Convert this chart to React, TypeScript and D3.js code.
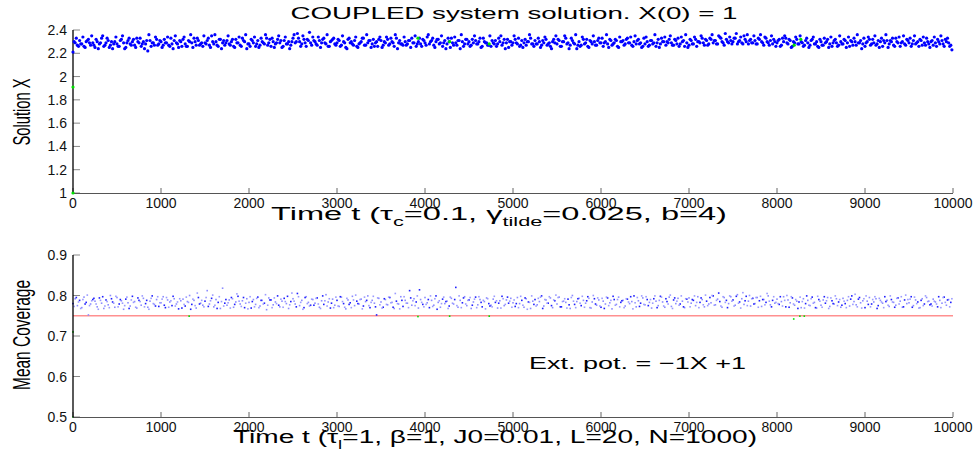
import React from 'react';
import * as d3 from 'd3';

const TIME_TICKS = [0, 1000, 2000, 3000, 4000, 5000, 6000, 7000, 8000, 9000, 10000];
const TOP_Y_TICKS = [1, 1.2, 1.4, 1.6, 1.8, 2, 2.2, 2.4];
const BOT_Y_TICKS = [0.5, 0.6, 0.7, 0.8, 0.9];
const T_STEP = 25;
const T_OFFSET_B = 12.5;

// Solution X (hundredths), t = i * 25
const solutionX = [
  221,229,227,231,228,226,230,232,227,229,
  225,230,228,233,226,229,231,227,224,230,
  228,226,232,229,225,231,228,230,227,233,
  229,226,230,228,222,231,229,227,232,228,
  230,227,229,234,226,228,231,229,225,230,
  232,228,226,230,229,233,227,231,228,226,
  229,231,227,235,228,230,226,232,229,227,
  231,228,230,226,232,229,227,233,230,224,
  228,232,229,226,231,227,230,228,233,229,
  226,230,228,232,229,225,231,228,230,227,
  233,229,237,230,228,232,226,231,229,234,
  230,227,231,229,233,228,226,230,232,228,
  229,231,227,230,225,232,229,228,231,226,
  228,230,233,227,229,231,228,226,230,232,
  231,227,229,232,228,230,226,233,229,228,
  227,230,228,231,233,229,226,230,228,232,
  229,234,228,231,227,230,232,229,226,231,
  228,230,233,227,229,231,224,230,228,232,
  230,227,229,231,228,233,226,230,229,227,
  226,229,231,228,230,227,232,229,225,230,
  229,232,228,226,231,229,227,230,233,228,
  231,228,230,227,229,232,228,226,230,229,
  228,231,226,230,233,229,227,231,228,224,
  230,227,232,229,226,231,228,230,227,233,
  229,226,230,228,232,227,229,231,225,230,
  231,228,233,229,227,230,228,232,229,226,
  228,230,227,231,229,226,232,228,230,234,
  230,232,229,227,231,233,228,230,226,229,
  227,231,228,232,230,229,233,227,231,228,
  232,229,231,228,234,230,227,232,229,231,
  230,233,228,231,229,235,230,228,232,229,
  231,228,232,230,227,233,229,231,228,230,
  229,232,227,230,233,228,231,226,229,232,
  228,230,226,231,229,227,232,228,230,225,
  230,227,229,232,228,226,231,229,227,230,
  228,231,229,226,230,233,227,229,231,228,
  226,230,232,228,229,227,231,230,226,229,
  231,228,230,227,233,229,226,230,228,232,
  229,226,231,228,230,232,227,229,233,228,
  230,227,229,232,228,231,226,230,229,227,
];

// Solution X (hundredths), t = i * 25 + 12.5
const solutionX2 = [
  230,233,226,228,234,225,231,229,235,227,
  232,224,229,235,227,233,225,230,228,234,
  226,231,235,224,229,233,227,232,225,230,
  233,228,224,231,236,226,229,234,227,231,
  225,232,229,227,233,224,235,228,231,226,
  234,226,231,236,225,230,233,227,229,235,
  228,233,225,230,236,227,232,224,231,229,
  235,227,232,225,229,234,226,231,236,228,
  226,231,234,228,225,233,229,236,227,232,
  233,225,229,235,231,226,234,228,224,230,
  236,230,233,226,235,229,232,238,227,231,
  228,234,225,232,229,236,226,231,233,227,
  232,226,235,229,224,233,230,227,234,225,
  229,233,227,236,231,225,232,229,226,234,
  225,230,234,227,233,229,236,224,231,228,
  234,227,231,225,229,235,228,233,226,231,
  227,236,230,233,225,232,228,235,229,224,
  233,225,229,234,227,231,236,226,232,228,
  226,232,235,228,230,225,233,229,227,235,
  231,228,226,233,235,229,224,232,230,227,
  235,229,233,227,225,232,230,236,228,226,
  228,233,225,231,234,227,229,224,232,235,
  232,226,230,235,228,224,233,229,236,227,
  226,234,228,232,225,230,235,227,231,229,
  233,229,236,225,231,228,232,226,234,230,
  227,232,229,234,226,235,231,228,225,233,
  234,226,231,228,236,229,225,233,230,227,
  229,235,227,232,228,226,234,231,236,225,
  232,228,234,226,230,235,229,232,227,233,
  236,231,228,235,233,229,237,230,234,228,
  233,237,230,234,228,232,236,231,229,235,
  228,233,236,229,234,230,227,235,232,226,
  231,226,233,235,229,232,225,230,234,228,
  235,229,227,233,225,231,234,228,226,232,
  227,233,230,225,234,229,232,226,235,228,
  232,225,234,231,227,230,236,229,224,233,
  229,234,227,232,235,228,225,233,231,236,
  225,231,233,226,230,234,229,235,227,231,
  233,228,235,229,226,231,234,227,230,225,
  231,234,226,230,235,228,232,233,226,223,
];

// Mean coverage (thousandths), t = i * 25
const meanCoverage = [
  780,792,775,788,770,796,783,752,779,790,
  786,772,794,781,768,789,777,800,784,771,
  795,779,787,766,791,782,774,798,785,769,
  788,776,793,780,771,786,799,778,790,773,
  782,797,770,789,784,775,792,779,767,787,
  791,774,785,800,778,788,769,795,781,776,
  786,812,779,793,772,790,783,768,818,781,
  776,789,795,771,784,798,779,787,770,792,
  783,769,790,778,796,774,788,781,765,794,
  789,777,784,799,772,786,793,780,768,785,
  792,779,805,775,788,770,797,783,776,790,
  781,794,771,787,778,802,784,769,791,776,
  788,773,796,780,767,789,782,798,775,786,
  779,791,774,785,799,770,788,781,752,793,
  784,771,790,777,795,783,768,786,779,797,
  773,788,781,812,776,792,784,769,790,778,
  795,782,770,788,776,799,783,771,791,780,
  786,774,793,779,820,771,788,782,797,775,
  789,768,784,796,777,790,772,785,794,780,
  776,791,783,769,787,798,775,789,781,793,
  782,773,795,780,788,771,792,784,768,786,
  790,777,785,799,774,789,781,794,770,787,
  779,796,772,786,783,791,768,800,778,785,
  793,775,788,781,797,770,784,792,776,789,
  771,786,779,794,782,767,790,778,796,783,
  788,774,791,780,785,799,772,787,781,794,
  777,790,783,769,792,786,775,798,784,771,
  785,796,773,789,780,793,779,786,770,791,
  794,781,788,775,797,783,790,772,786,779,
  782,799,777,791,785,771,795,788,780,797,
  789,776,802,784,792,778,798,786,774,793,
  780,795,787,773,790,783,799,777,788,781,
  791,778,785,797,772,789,782,794,776,786,
  784,770,792,780,788,775,796,783,769,790,
  776,789,781,795,773,787,779,792,784,771,
  793,780,788,774,799,785,777,791,782,787,
  770,786,795,779,784,792,775,788,781,797,
  788,773,790,783,776,794,786,771,789,780,
  782,797,775,789,784,770,792,779,795,786,
  779,791,784,772,788,781,796,776,790,783,
];

// Mean coverage (thousandths), t = i * 25 + 12.5
const meanCoverage2 = [
  773,795,784,768,790,779,801,775,787,793,
  779,766,788,797,774,785,770,792,781,798,
  772,790,781,775,796,768,789,783,771,794,
  785,799,772,788,766,793,780,774,797,782,
  791,776,795,771,787,798,774,784,792,769,
  778,796,783,766,791,775,806,779,788,772,
  795,773,787,801,776,768,797,785,774,790,
  782,769,792,778,804,786,773,795,781,767,
  797,785,772,793,770,788,779,802,776,789,
  770,794,780,776,791,771,785,798,777,806,
  786,772,797,783,766,795,780,774,791,776,
  793,779,768,799,787,774,792,781,770,796,
  774,797,785,771,793,778,770,789,801,780,
  790,767,796,788,775,783,798,772,794,777,
  769,792,778,796,782,771,805,780,767,788,
  797,781,770,794,787,775,799,814,783,772,
  778,790,799,773,792,766,787,780,796,785,
  768,796,781,790,775,799,770,794,779,788,
  795,776,791,770,797,783,788,767,792,774,
  772,798,787,781,769,792,778,796,786,771,
  789,780,770,798,776,794,766,783,799,778,
  774,793,796,768,790,781,797,775,789,801,
  795,772,785,792,769,777,795,786,770,792,
  781,798,771,787,793,769,800,779,794,774,
  793,768,796,775,788,798,776,790,772,787,
  770,792,784,797,767,782,795,773,799,778,
  797,775,790,781,799,770,788,796,774,792,
  779,801,768,794,786,776,799,772,792,784,
  772,790,799,783,770,794,777,801,775,795,
  800,776,788,806,774,797,783,770,799,786,
  774,798,781,769,807,787,775,800,792,779,
  795,771,798,790,777,805,786,772,797,783,
  780,797,774,788,800,771,797,779,790,768,
  796,785,769,799,776,792,781,770,798,786,
  771,797,787,768,794,780,799,775,790,776,
  786,770,797,791,778,803,772,795,769,792,
  799,778,772,790,797,768,793,784,770,785,
  776,799,784,771,793,779,797,772,801,790,
  791,771,796,780,769,788,775,799,785,777,
  774,786,779,797,770,795,783,789,772,792,
];

const topGreenT = [0, 0, 3920, 4280, 4730, 8195, 8270];
const topGreenV = [1, 1.91, 2.33, 2.30, 2.28, 2.27, 2.32];
const botGreenT = [0, 0, 1320, 3920, 4280, 4730, 8190, 8260, 8310];
const botGreenV = [0.5, 0.71, 0.749, 0.748, 0.749, 0.749, 0.742, 0.749, 0.749];
const REF_LEVEL = 0.75;

const FONT = '"Liberation Sans", Arial, Helvetica, sans-serif';

const xScale = d3.scaleLinear().domain([0, 10000]).range([73, 953]);
const yTop = d3.scaleLinear().domain([1, 2.4]).range([193, 30]);
const yBot = d3.scaleLinear().domain([0.5, 0.9]).range([417, 255]);

function Axes({ y, ticks, fmt, tickLabelY }: any) {
  const [y0, y1] = y.range();
  return (
    <g>
      {ticks.map((v: number) => (
        <g key={'y' + v}>
          <line x1={73} x2={80} y1={y(v)} y2={y(v)} stroke="#888" strokeWidth={1} />
          <text x={67} y={y(v) + 5} textAnchor="end" fontSize={14} fontFamily={FONT} fill="#111">{fmt(v)}</text>
        </g>
      ))}
      {TIME_TICKS.map((t) => (
        <g key={'x' + t}>
          <line x1={xScale(t)} x2={xScale(t)} y1={y0} y2={y0 - 5} stroke="#666" strokeWidth={1} />
          <text x={xScale(t)} y={tickLabelY} textAnchor="middle" fontSize={14} fontFamily={FONT} fill="#111">{t}</text>
        </g>
      ))}
      <line x1={73} x2={953} y1={y0 + 0.5} y2={y0 + 0.5} stroke="#555" strokeWidth={1.2} />
      <line x1={73} x2={73} y1={y0 + 0.5} y2={y1} stroke="#000" strokeWidth={1.3} />
    </g>
  );
}

export default function App() {
  const fmt = (v: number) => d3.format('~g')(+v.toFixed(2));
  return (
    <svg width={980} height={454} style={{ position: 'absolute', left: 0, top: 0, background: '#fff' }}>
      <rect width={980} height={454} fill="#fff" />
      {/* Top panel */}
      <text x={514} y={19} textAnchor="middle" fontSize={16} fontFamily={FONT} textLength={447} lengthAdjust="spacingAndGlyphs">COUPLED system solution. X(0) = 1</text>
      <Axes y={yTop} ticks={TOP_Y_TICKS} fmt={fmt} tickLabelY={208} />
      {solutionX.map((v, i) => (
        <circle key={'a' + i} cx={xScale(i * T_STEP)} cy={yTop(v / 100)} r={1.6} fill="#0000ff" />
      ))}
      {solutionX2.map((v, i) => (
        <circle key={'b' + i} cx={xScale(i * T_STEP + T_OFFSET_B)} cy={yTop(v / 100)} r={1.6} fill="#0000ff" />
      ))}
      {topGreenT.map((t, i) => (
        <circle key={'g' + i} cx={xScale(t)} cy={yTop(topGreenV[i])} r={1.6} fill="#00e000" />
      ))}
      <text x={271} y={220} fontSize={18} fontFamily={FONT} textLength={456} lengthAdjust="spacingAndGlyphs">
        Time t (τ<tspan fontSize={12} dy={6}>c</tspan><tspan dy={-6}>=0.1, γ</tspan><tspan fontSize={12} dy={6}>tilde</tspan><tspan dy={-6}>=0.025, b=4)</tspan>
      </text>
      <text transform="translate(30,112) rotate(-90)" textAnchor="middle" fontSize={24} fontFamily={FONT} textLength={67} lengthAdjust="spacingAndGlyphs">Solution X</text>

      {/* Bottom panel */}
      <line x1={xScale(0)} x2={xScale(10000)} y1={yBot(REF_LEVEL)} y2={yBot(REF_LEVEL)} stroke="#ff9090" strokeWidth={1.5} />
      {meanCoverage.map((v, i) => (
        <rect key={'a' + i} x={xScale(i * T_STEP) - 0.8} y={yBot(v / 1000) - 0.8} width={1.6} height={1.6}
          fill={i % 3 === 0 ? '#2020ff' : '#8c8cff'} />
      ))}
      {meanCoverage2.map((v, i) => (
        <rect key={'b' + i} x={xScale(i * T_STEP + T_OFFSET_B) - 0.8} y={yBot(v / 1000) - 0.8} width={1.6} height={1.6}
          fill={i % 4 === 1 ? '#2020ff' : '#9a9aff'} />
      ))}
      {botGreenT.map((t, i) => (
        <rect key={'bg' + i} x={xScale(t) - 0.8} y={yBot(botGreenV[i]) - 0.8} width={1.6} height={1.6} fill="#00e000" />
      ))}
      <Axes y={yBot} ticks={BOT_Y_TICKS} fmt={fmt} tickLabelY={432} />
      <text x={529} y={369} fontSize={17} fontFamily={FONT} textLength={217} lengthAdjust="spacingAndGlyphs">Ext. pot. = −1X +1</text>
      <text x={233} y={443} fontSize={18} fontFamily={FONT} textLength={524} lengthAdjust="spacingAndGlyphs">
        Time t (τ<tspan fontSize={12} dy={6}>l</tspan><tspan dy={-6}>=1, β=1, J0=0.01, L=20, N=1000)</tspan>
      </text>
      <text transform="translate(30,335) rotate(-90)" textAnchor="middle" fontSize={23} fontFamily={FONT} textLength={110} lengthAdjust="spacingAndGlyphs">Mean Coverage</text>
    </svg>
  );
}
